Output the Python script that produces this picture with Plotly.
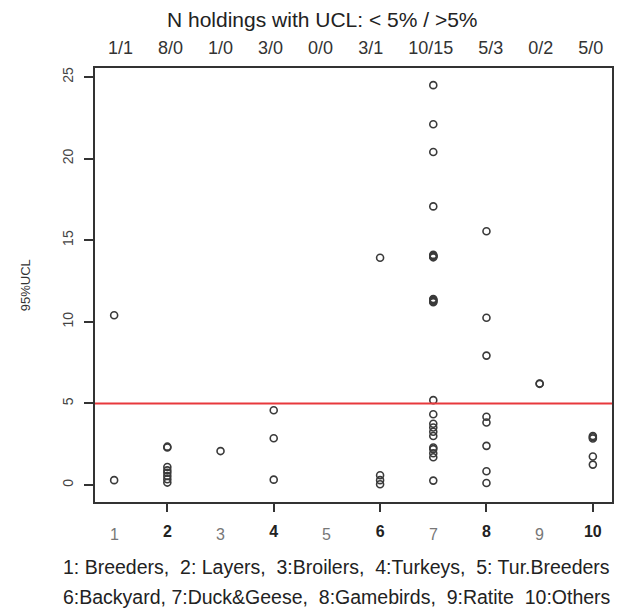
import plotly.graph_objects as go

categories = [1, 2, 3, 4, 5, 6, 7, 8, 9, 10]
top_labels = ["1/1", "8/0", "1/0", "3/0", "0/0", "3/1", "10/15", "5/3", "0/2", "5/0"]
ucl_by_cat = [
    [10.4, 0.3],
    [2.3, 2.35, 1.1, 0.9, 0.75, 0.55, 0.35, 0.15],
    [2.08],
    [4.58, 2.87, 0.33],
    [],
    [13.92, 0.6, 0.3, 0.05],
    [24.5, 22.1, 20.4, 17.07, 14.0, 14.05, 14.1, 13.95, 14.02,
     11.2, 11.3, 11.4, 11.25, 11.35, 5.2,
     4.34, 3.75, 3.52, 3.26, 3.0, 2.3, 2.2, 1.95, 1.7, 0.27],
    [15.55, 10.25, 7.93, 4.18, 3.83, 2.4, 0.84, 0.12],
    [6.22, 6.2],
    [3.0, 2.93, 2.85, 1.75, 1.25],
]
threshold = 5
even_ticks = [2, 4, 6, 8, 10]
odd_ticks = [1, 3, 5, 7, 9]
y_ticks = [0, 5, 10, 15, 20, 25]
title_text = "N holdings with UCL: < 5% / >5%"
y_title = "95%UCL"
legend_line1 = "1: Breeders,  2: Layers,  3:Broilers,  4:Turkeys,  5: Tur.Breeders"
legend_line2 = "6:Backyard, 7:Duck&Geese,  8:Gamebirds,  9:Ratite  10:Others"

xs, ys = [], []
for c, vals in zip(categories, ucl_by_cat):
    for v in vals:
        xs.append(c)
        ys.append(v)

FONT = "Liberation Sans"
# the page body has an 8px margin, so the figure is made 8px smaller
W, H = 619, 604
L, R, T, B = 87, 15, 60, 110
PW = W - L - R
fig = go.Figure()
fig.add_trace(go.Scatter(
    x=xs, y=ys, mode="markers",
    marker=dict(symbol="circle-open", size=7, color="#3a3a3a", line=dict(width=1.6)),
    showlegend=False, hoverinfo="skip",
))

fig.add_shape(type="line", xref="paper", x0=0, x1=1, yref="y", y0=threshold, y1=threshold,
              line=dict(color="#e8393c", width=2))

fig.add_annotation(x=0.5035, y=1, xref="paper", yref="paper", yshift=20,
                   text=("&nbsp;" * 5).join(top_labels), showarrow=False,
                   xanchor="center", yanchor="middle",
                   font=dict(family=FONT, size=18, color="#333333"))

# title as annotation placed above the plot area
fig.add_annotation(x=(314 - L) / PW, y=1, xref="paper", yref="paper", yshift=T - 11,
                   text=title_text, showarrow=False, xanchor="center", yanchor="middle",
                   font=dict(family=FONT, size=21, color="#222222"))

for t in odd_ticks:
    fig.add_annotation(x=t, y=0, xref="x", yref="paper", yshift=-32, text=str(t),
                       showarrow=False, font=dict(family=FONT, size=16, color="#777777"),
                       yanchor="middle")

fig.add_annotation(x=-0.135, y=0.5, xref="paper", yref="paper", text=y_title,
                   textangle=-90, showarrow=False, xanchor="center", yanchor="middle",
                   font=dict(family=FONT, size=13, color="#333333"))

fig.add_annotation(x=0.468, y=0, xref="paper", yref="paper", yshift=-65,
                   text=legend_line1, showarrow=False, xanchor="center", yanchor="middle",
                   font=dict(family=FONT, size=19.5, color="#222222"))
fig.add_annotation(x=0.468, y=0, xref="paper", yref="paper", yshift=-95,
                   text=legend_line2, showarrow=False, xanchor="center", yanchor="middle",
                   font=dict(family=FONT, size=19.5, color="#222222"))

fig.update_layout(
    width=W, height=H,
    margin=dict(l=L, r=R, t=T, b=B),
    plot_bgcolor="white", paper_bgcolor="white",
    font=dict(family=FONT, size=13, color="#222222"),
    xaxis=dict(range=[0.64, 10.36], tickvals=even_ticks,
               ticktext=[f"<b>{t}</b>" for t in even_ticks],
               ticks="outside", ticklen=8, tickwidth=1.5, tickcolor="#333333",
               ticklabelstandoff=6, automargin=False,
               showgrid=False, zeroline=False,
               showline=True, linecolor="#333333", linewidth=1.5, mirror=True,
               tickfont=dict(size=16, color="#222222")),
    yaxis=dict(range=[-1.04, 25.55], tickvals=y_ticks, ticktext=[str(v) for v in y_ticks],
               ticks="outside", ticklen=9, tickwidth=1.5, tickcolor="#333333",
               ticklabelstandoff=6, automargin=False,
               tickangle=-90, showgrid=False, zeroline=False,
               showline=True, linecolor="#333333", linewidth=1.5, mirror=True,
               tickfont=dict(size=14, color="#444444")),
)

fig.write_html("out.html")
